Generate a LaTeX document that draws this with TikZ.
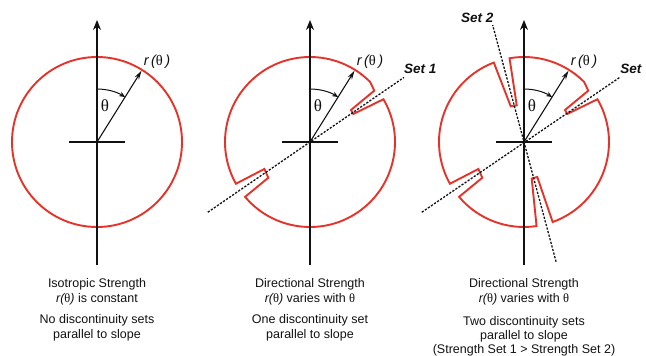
\documentclass[tikz,border=0pt]{standalone}
\usepackage{fontspec}
\setsansfont{Liberation Sans}
\newfontfamily\greekserif{Liberation Serif}
\usepackage{xcolor}
\usepackage{tikz}
\usetikzlibrary{positioning,arrows.meta,calc}
\definecolor{envred}{HTML}{E5332A}
\definecolor{ink}{HTML}{111111}
\newcommand{\thetasym}{{\greekserif θ}}
\newcommand{\rtheta}{{\itshape r(}\thetasym{\itshape )}}

\tikzset{
  axis/.style={draw=ink,line width=1.1pt},
  axisarrow/.style={axis,-{Stealth[length=10pt,width=8pt]}},
  envelope/.style={draw=envred,line width=1.9pt,line join=miter},
  setline/.style={draw=ink,line width=1.3pt,dash pattern=on 2.2pt off 1.5pt},
  caption/.style={font=\sffamily\fontsize{12.5}{15}\selectfont,align=center,text=ink,inner sep=0pt},
  setlabel/.style={font=\sffamily\bfseries\itshape\fontsize{13.5}{15}\selectfont,text=ink,inner sep=0pt},
}

\begin{document}
\begin{tikzpicture}[x=1pt,y=1pt]
  \useasboundingbox (0,0) rectangle (646,-356);

  % strength envelopes
  \begin{scope}[shift={(97,-142)}]
    \draw[envelope] (0,0) circle[radius=85];
  \end{scope}
  \begin{scope}[shift={(310,-142)}]
    \draw[envelope] (45:85) arc[start angle=45,end angle=209.4,radius=85]
      -- (210.6:53) -- (220.6:54.9) -- (220.2:85)
      arc[start angle=220.2,end angle=390.2,radius=85]
      -- (32.9:51.6) -- (38:52) -- (38.6:82.3) -- cycle;
    \draw[setline] (214.5:124) -- (34.5:114) coordinate (endb);
    \node[setlabel,anchor=base west] (setb) at ($(endb)+(0,4)$) {Set 1};
  \end{scope}
  \begin{scope}[shift={(524,-142)}]
    \draw[envelope] (45:85) arc[start angle=45,end angle=99.8,radius=85]
      -- (101.2:37.4) -- (110.4:38.1) -- (110.8:85)
      arc[start angle=110.8,end angle=209.4,radius=85]
      -- (210.6:53) -- (220.6:54.9) -- (220.2:85)
      arc[start angle=220.2,end angle=278.5,radius=85]
      -- (281.9:37.4) -- (290.8:37.4) -- (289.7:85)
      arc[start angle=289.7,end angle=390.2,radius=85]
      -- (32.9:51.6) -- (38:52) -- (38.6:82.3) -- cycle;
    \draw[setline] (214.5:124) -- (34:116) coordinate (endc);
    \node[setlabel,anchor=base west] (setc) at ($(endc)+(0,4)$) {Set};
    \draw[setline] (285:124) -- (105:121) coordinate (endd);
    \node[setlabel,anchor=base east] (setd) at ($(endd)+(1,3)$) {Set 2};
  \end{scope}

  % axes, radius and angle
  \foreach \cx in {97,310,524}{
    \begin{scope}[shift={(\cx,-142)}]
      \draw[axisarrow] (0,-123) -- (0,122);
      \draw[axis] (-28,0) -- (28,0);
      \draw[axis,-{Stealth[length=9pt,width=5pt]}] (0,0) -- (58:84);
      \draw[axis,line width=1pt,-{Stealth[length=6pt,width=5pt]}] (90:53) arc[start angle=90,end angle=58,radius=53];
      \node[text=ink,font=\fontsize{17}{17}\selectfont] at (8,36) {\thetasym};
      \node[text=ink,font=\sffamily\fontsize{14.5}{15}\selectfont] at (60,80) {{\itshape r\,(}\thetasym\,{\itshape )}};
    \end{scope}
  }

  % captions
  \node[caption,anchor=base] (capa) at (97,-302.3) {Isotropic Strength\\\rtheta{} is constant};
  \node[caption,anchor=base] (capb) at (97,-338.7) {No discontinuity sets\\parallel to slope};
  \node[caption,anchor=base] (capc) at (310,-302.3) {Directional Strength\\\rtheta{} varies with \thetasym};
  \node[caption,anchor=base] (capd) at (310,-338.7) {One discontinuity set\\parallel to slope};
  \node[caption,anchor=base] (cape) at (524,-302.3) {Directional Strength\\\rtheta{} varies with \thetasym};
  \node[caption,anchor=base,font=\sffamily\fontsize{12.5}{14}\selectfont] (capf) at (524,-353) {Two discontinuity sets\\parallel to slope\\(Strength Set 1 > Strength Set 2)};
\end{tikzpicture}
\end{document}
